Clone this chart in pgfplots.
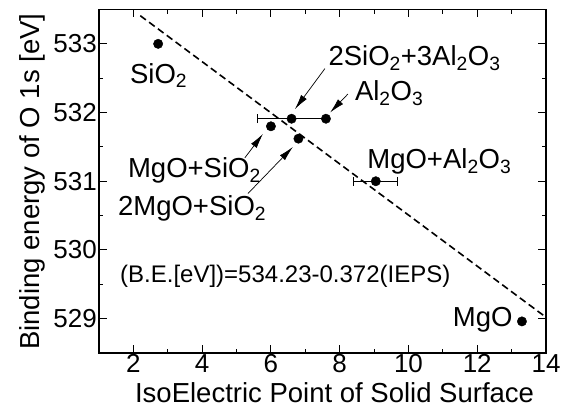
\documentclass[border=0pt]{standalone}
\usepackage{fontspec}
\setmainfont{Liberation Sans}
\usepackage{pgfplots}
\pgfplotsset{compat=1.18}
\usetikzlibrary{arrows.meta}
\newcommand{\sub}[1]{\textsubscript{#1}}
\begin{document}
\begin{tikzpicture}
\begin{axis}[
  scale only axis,
  width=447pt, height=343.5pt,
  xmin=1, xmax=14, ymin=528.5, ymax=533.5,
  xtick={2,4,...,14}, ytick={529,530,...,533},
  minor x tick num=1, minor y tick num=1,
  major tick length=8pt, minor tick length=4.5pt,
  tick align=inside,
  every tick/.style={black, line width=1pt},
  axis line style={line width=1.5pt},
  /pgf/number format/assume math mode=true,
  /pgf/number format/1000 sep={},
  ticklabel style={font=\fontsize{26}{30}\selectfont},
  xticklabel style={inner ysep=1pt},
  yticklabel style={inner xsep=2pt},
  label style={font=\fontsize{27.5}{33}\selectfont},
  xlabel={IsoElectric Point of Solid Surface},
  ylabel={Binding energy of O 1s [eV]},
  xlabel style={at={(axis description cs:0.527,-0.144)}, anchor=base},
  ylabel style={at={(axis description cs:-0.132,0.499)}, anchor=base},
  clip=false,
]
% fit line
\addplot[black, line width=1.6pt, dash pattern=on 7pt off 4pt] coordinates {(2.2,533.41) (14,529.02)};
% points without error bars
\addplot[only marks, mark=*, mark size=4.7pt, black] coordinates {
  (2.72,533.0) (6.0,531.8) (6.8,531.62) (7.6,531.91) (13.3,528.96)};
% points with x error bars
\addplot[black, only marks, mark=*, mark size=4.7pt,
  error bars/.cd, x dir=both, x explicit,
  error bar style={line width=1.1pt},
  error mark=|,
  error mark options={line width=1pt, mark size=4.5pt}]
  coordinates {(6.6,531.91) +- (1.0,0) (9.05,531.0) +- (0.64,0)};
% annotations
\begin{scope}[every node/.style={font=\fontsize{27.5}{33}\selectfont, inner sep=0pt}]
\node[anchor=base west] at (axis cs:1.90,532.43) {SiO\sub{2}};
\node[anchor=base west] at (axis cs:1.84,531.05) {MgO+SiO\sub{2}};
\node[anchor=base west] at (axis cs:1.55,530.50) {2MgO+SiO\sub{2}};
\node[anchor=base west] at (axis cs:7.67,532.68) {2SiO\sub{2}+3Al\sub{2}O\sub{3}};
\node[anchor=base west] at (axis cs:8.44,532.17) {Al\sub{2}O\sub{3}};
\node[anchor=base west] at (axis cs:8.80,531.18) {MgO+Al\sub{2}O\sub{3}};
\node[anchor=base east] at (axis cs:13.03,528.88) {MgO};
\end{scope}
\node[anchor=base west, inner sep=0pt, font=\fontsize{24}{29}\selectfont] at (axis cs:1.61,529.52) {(B.E.[eV])=534.23-0.372(IEPS)};
% arrows
\begin{scope}[-{Latex[length=15pt,width=7pt]}, line width=0.7pt]
\draw (axis cs:5.24,531.34) -- (axis cs:5.77,531.69);
\draw (axis cs:5.33,530.82) -- (axis cs:6.64,531.50);
\draw (axis cs:7.57,532.64) -- (axis cs:6.70,532.05);
\draw (axis cs:8.24,532.27) -- (axis cs:7.72,532.00);
\end{scope}
\end{axis}
\pgfresetboundingbox
\path[use as bounding box] (current axis.south west) ++(-99pt,-54pt) rectangle ++(572pt,407pt);
\end{tikzpicture}
\end{document}
